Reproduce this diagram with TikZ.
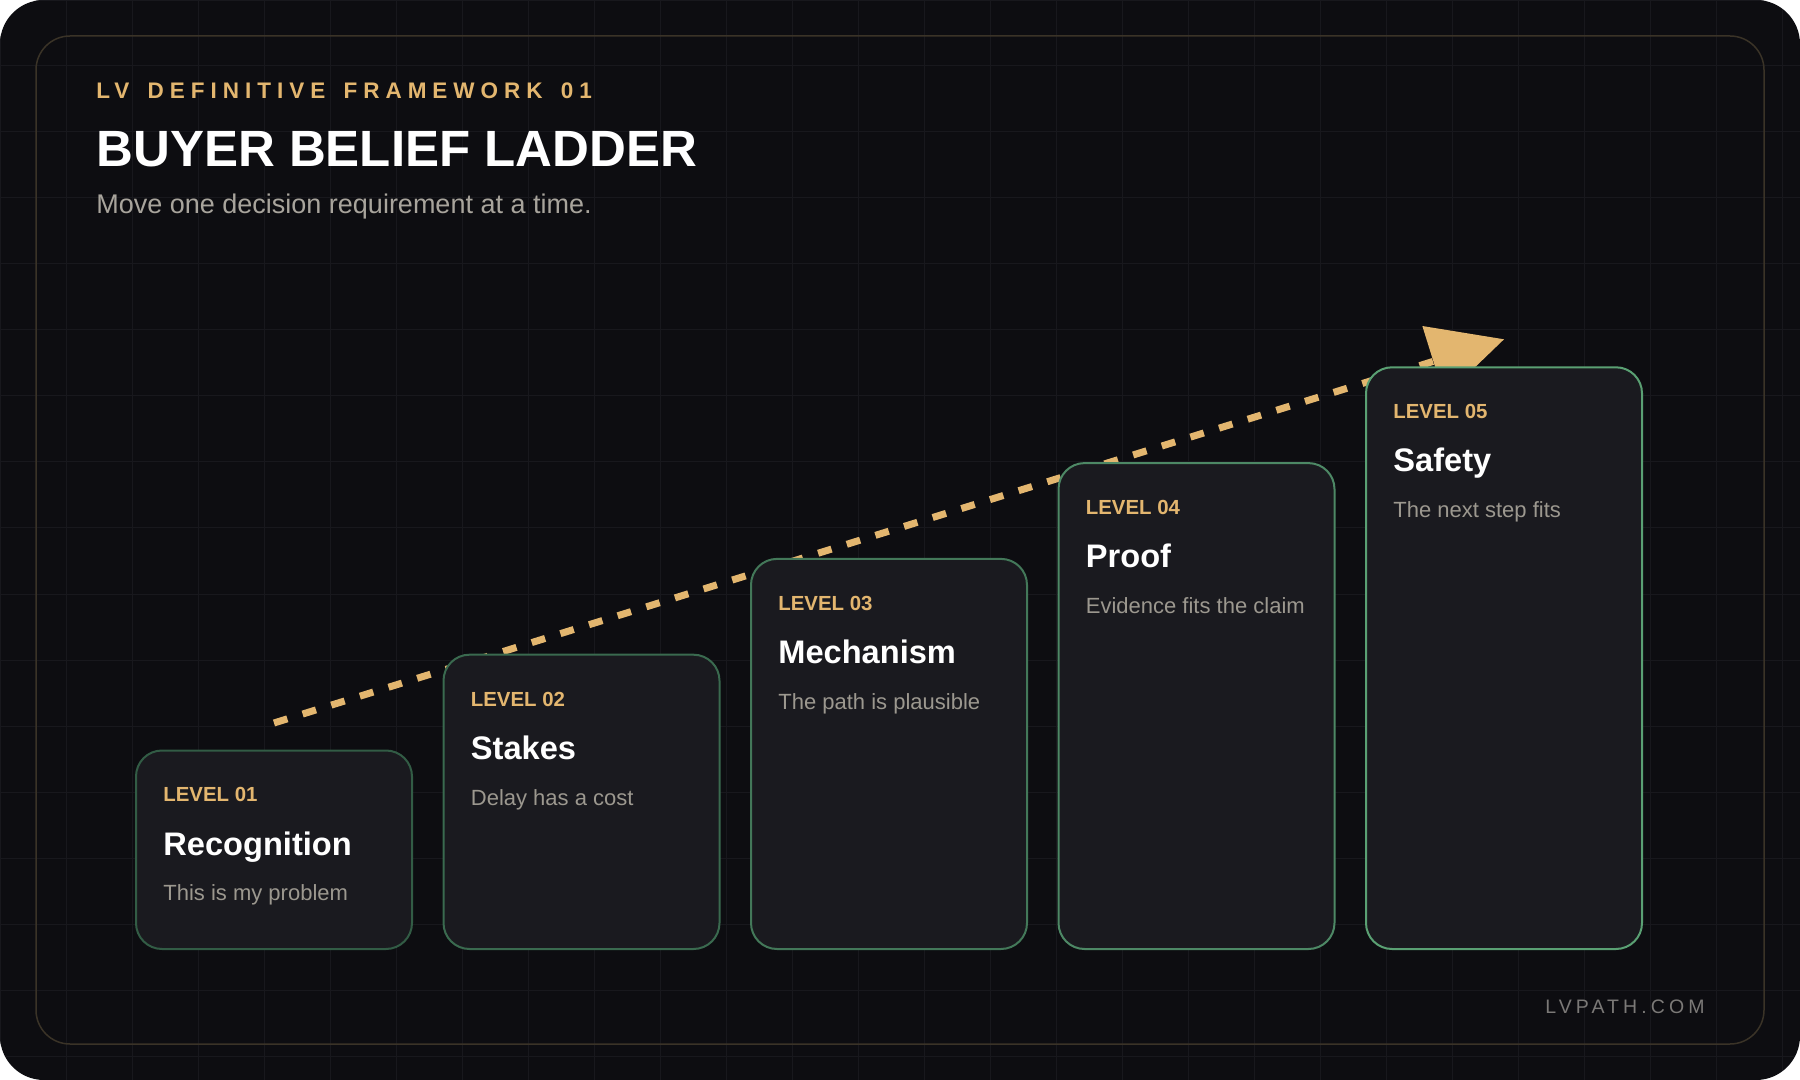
\documentclass[tikz,border=0pt]{standalone}
\usepackage{fontspec}
\setmainfont{Liberation Sans}
\newfontfamily\hdrfont[LetterSpace=26.6]{Liberation Sans}
\newfontfamily\footfont[LetterSpace=21]{Liberation Sans}
\usetikzlibrary{arrows.meta,calc}
\pgfdeclarelayer{bg}
\pgfsetlayers{bg,main}
\definecolor{bgc}{HTML}{0D0D11}
\definecolor{gridc}{HTML}{18181D}
\definecolor{framec}{HTML}{3A3327}
\definecolor{boxfill}{HTML}{1A1A1F}
\definecolor{gold}{HTML}{E3B66F}
\definecolor{subgray}{HTML}{A8A49C}
\definecolor{descgray}{HTML}{9C988F}
\definecolor{footgray}{HTML}{7B7977}
\definecolor{bca}{HTML}{325C45}
\definecolor{bcb}{HTML}{3A6A4F}
\definecolor{bcc}{HTML}{437859}
\definecolor{bcd}{HTML}{4D8865}
\definecolor{bce}{HTML}{5AA073}
\newcommand{\wsp}{\ \hspace{3pt}}
\tikzset{
  stepbox/.style={fill=boxfill, line width=1pt, rounded corners=13pt, minimum width=138pt, inner sep=0pt, anchor=north west},
  lvl/.style={anchor=base west, inner sep=0pt, text=gold, font=\bfseries\fontsize{10.2pt}{12pt}\selectfont},
  ttl/.style={anchor=base west, inner sep=0pt, text=white, font=\bfseries\fontsize{16.3pt}{19pt}\selectfont},
  dsc/.style={anchor=base west, inner sep=0pt, text=descgray, font=\fontsize{11pt}{13pt}\selectfont},
  dashline/.style={draw=gold, line width=3.5pt, dash pattern=on 7pt off 8pt, line cap=butt,
    -{Triangle[length=37pt, width=37pt, line width=0pt]}}
}
\begin{document}
\begin{tikzpicture}[x=0.5pt, y=-0.5pt]
\useasboundingbox (0,0) rectangle (1800,1080);
\begin{pgfonlayer}{bg}
  \fill[white] (0,0) rectangle (1800,1080);
  \begin{scope}
    \clip[rounded corners=22pt] (0,0) rectangle (1800,1080);
    \fill[bgc] (0,0) rectangle (1800,1080);
    \draw[gridc, line width=0.5pt] (0,0) grid[step=33pt] (1800,1080);
  \end{scope}
  \draw[framec, line width=0.75pt, rounded corners=17pt] (36,36) rectangle (1764,1044);
\end{pgfonlayer}

\node[anchor=base west, inner sep=0pt, text=gold, font=\hdrfont\bfseries\fontsize{11.25pt}{13pt}\selectfont] (hdr) at (96,98.5) {LV\wsp DEFINITIVE\wsp FRAMEWORK\wsp 01};
\node[anchor=base west, inner sep=0pt, text=white, font=\bfseries\fontsize{25.5pt}{30pt}\selectfont] (title) at (96,167) {BUYER BELIEF LADDER};
\node[anchor=base west, inner sep=0pt, text=subgray, font=\fontsize{13.5pt}{16pt}\selectfont] (sub) at (96,214) {Move one decision requirement at a time.};
\node[anchor=base east, inner sep=0pt, text=footgray, font=\footfont\fontsize{9.75pt}{12pt}\selectfont] (foot) at (1705,1013) {LVPATH.COM};

\foreach \i/\tit/\desc/\col in {1/Recognition/This is my problem/bca, 2/Stakes/Delay has a cost/bcb, 3/Mechanism/The path is plausible/bcc, 4/Proof/Evidence fits the claim/bcd, 5/Safety/The next step fits/bce}{
  \pgfmathsetmacro\L{135+307.5*(\i-1)}
  \pgfmathsetmacro\T{749.5-95.8*(\i-1)}
  \pgfmathsetmacro\H{(948-\T)/2}
  \node[stepbox, draw=\col, minimum height=\H pt] (b\i) at (\L,\T) {};
  \node[lvl] (l\i) at ($(b\i.north west)+(28,52.3)$) {LEVEL 0\i};
  \node[ttl] (t\i) at ($(b\i.north west)+(28,105.7)$) {\tit};
  \node[dsc] (d\i) at ($(b\i.north west)+(28,151.3)$) {\desc};
}

\begin{pgfonlayer}{bg}
  \draw[dashline] ($(b1.north)+(0,-26.5)$) -- ($(b5.north)+(0,-27)$);
\end{pgfonlayer}
\end{tikzpicture}
\end{document}
